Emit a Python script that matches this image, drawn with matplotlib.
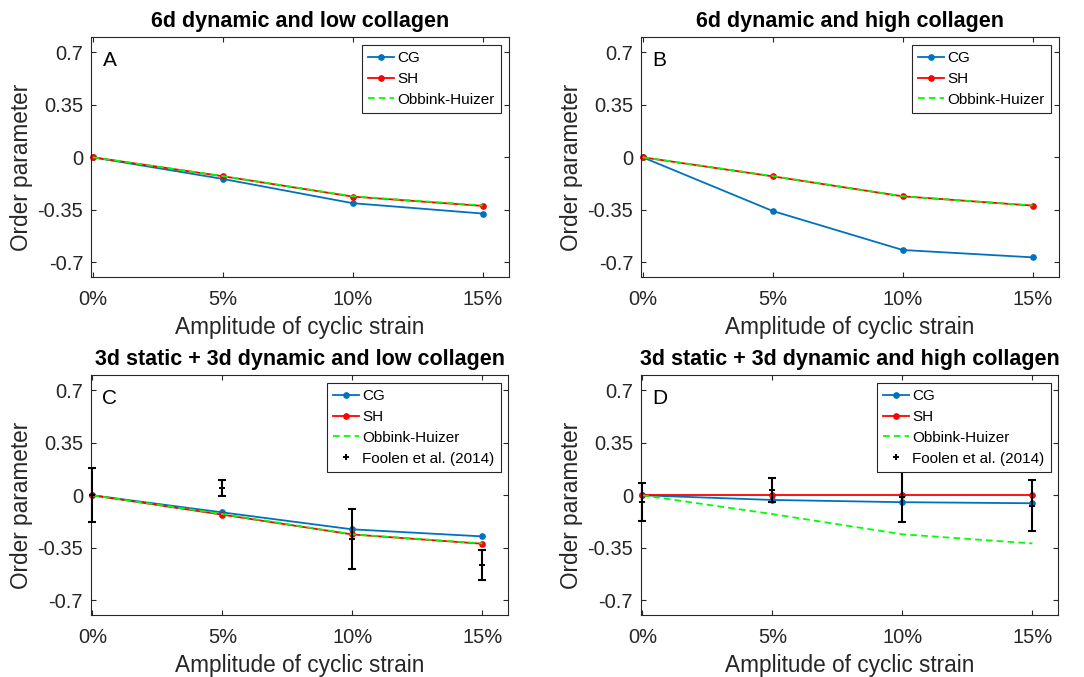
import matplotlib
matplotlib.use('Agg')
import matplotlib.pyplot as plt

plt.rcParams['font.family'] = ['Liberation Sans', 'DejaVu Sans']

# ---------------- data ----------------
strain = [0, 5, 10, 15]
xtick_labels = ['0%', '5%', '10%', '15%']
yticks = [-0.7, -0.35, 0, 0.35, 0.7]
ytick_labels = ['-0.7', '-0.35', '0', '0.35', '0.7']

titles = ['6d dynamic and low collagen',
          '6d dynamic and high collagen',
          '3d static + 3d dynamic and low collagen',
          '3d static + 3d dynamic and high collagen']
letters = ['A', 'B', 'C', 'D']

cg_A = [0, -0.144, -0.306, -0.375]
cg_B = [0, -0.358, -0.618, -0.667]
cg_C = [0, -0.114, -0.227, -0.274]
cg_D = [0, -0.031, -0.046, -0.053]

sh_A = [0, -0.126, -0.262, -0.324]
sh_B = [0, -0.127, -0.260, -0.322]
sh_C = [0, -0.129, -0.261, -0.323]
sh_D = [0, 0, 0, 0]

obbink_huizer = [0, -0.125, -0.260, -0.321]

foolen_C_mean = [0, 0.049, -0.291, -0.463]
foolen_C_err = [0.180, 0.051, 0.202, 0.099]
foolen_D_mean = [-0.043, 0.036, -0.012, -0.071]
foolen_D_err = [0.126, 0.080, 0.168, 0.170]

cg_all = [cg_A, cg_B, cg_C, cg_D]
sh_all = [sh_A, sh_B, sh_C, sh_D]
foolen_all = [None, None, (foolen_C_mean, foolen_C_err), (foolen_D_mean, foolen_D_err)]

# ---------------- layout ----------------
W, H = 1084, 677
fig = plt.figure(figsize=(W / 100, H / 100), dpi=100)
# (left px, top px)
pos_px = [(91, 37.3), (641, 37.3), (90.7, 375.3), (640.7, 375.3)]
aw, ah = 417.7, 240

GRAY = '#262626'
C_CG = '#0072BD'
C_SH = '#FF0000'
C_OH = '#00FF00'

for i in range(4):
    lpx, tpx = pos_px[i]
    ax = fig.add_axes([lpx / W, 1 - (tpx + ah) / H, aw / W, ah / H])

    ax.plot(strain, cg_all[i], '-o', color=C_CG, lw=1.3, ms=3.8, label='CG',
            clip_on=False)
    ax.plot(strain, sh_all[i], '-o', color=C_SH, lw=1.3, ms=3.8, label='SH',
            clip_on=False)
    oh_line, = ax.plot(strain, obbink_huizer, '--', color=C_OH, lw=1.3,
                       label='Obbink-Huizer')
    oh_line.set_dashes((3.7, 2.3))

    if foolen_all[i] is not None:
        m, e = foolen_all[i]
        eb = ax.errorbar(strain, m, yerr=e, fmt='none', ecolor='black',
                         elinewidth=1.5, capsize=2.6, capthick=1.5, zorder=4)
        for art in eb.lines[1]:
            art.set_clip_on(False)
        for art in eb.lines[2]:
            art.set_clip_on(False)
        ax.plot(strain, m, '+', color='black', ms=4.5, mew=1.4,
                label='Foolen et al. (2014)', zorder=5, clip_on=False)

    ax.set_xlim(-0.065, 16)
    ax.set_ylim(-0.8, 0.8)
    ax.set_xticks(strain)
    ax.set_xticklabels(xtick_labels)
    ax.set_yticks(yticks)
    ax.set_yticklabels(ytick_labels)
    ax.tick_params(axis='both', direction='in', length=3.6, width=0.8,
                   colors=GRAY, labelsize=14.5, top=True, right=True)
    ax.tick_params(axis='x', pad=9.5)
    ax.tick_params(axis='y', pad=5.5)
    for s in ax.spines.values():
        s.set_color(GRAY)
        s.set_linewidth(0.8)

    ax.set_title(titles[i], fontsize=15.5, fontweight='bold', pad=7.6,
                 color='black')
    ax.set_xlabel('Amplitude of cyclic strain', fontsize=16.3, color=GRAY)
    ax.xaxis.label.set_va('baseline')
    ax.xaxis.set_label_coords(0.5, -0.236)
    ax.set_ylabel('Order parameter', fontsize=16.3, color=GRAY)
    ax.yaxis.set_label_coords(-0.138, 0.459)

    ax.text(0.028, 0.880, letters[i], transform=ax.transAxes, fontsize=15,
            va='baseline', ha='left', color='black')

    leg = ax.legend(loc='upper right', fontsize=11, frameon=True,
                    fancybox=False, framealpha=1, edgecolor=GRAY,
                    handlelength=1.7, handletextpad=0.22, labelspacing=0.45,
                    borderpad=0.4, borderaxespad=0.5)
    leg.get_frame().set_linewidth(0.8)
    for t in leg.get_texts():
        t.set_color('black')

fig.savefig('out.png', dpi=100)
